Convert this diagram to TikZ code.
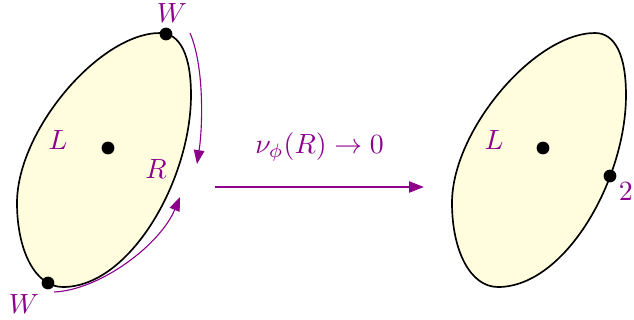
\documentclass[tikz,border=0pt]{standalone}
\usepackage{amsmath,amssymb}
\usepackage{xcolor}
\definecolor{accent}{RGB}{140,0,140}
\definecolor{blobfill}{RGB}{255,253,222}
\usetikzlibrary{arrows.meta,positioning}
\tikzset{
  region/.style={draw=black,fill=blobfill,line width=0.6pt},
  pt/.style={circle,fill=black,inner sep=0pt,minimum size=4.6pt},
  lbl/.style={text=accent,inner sep=0pt},
  slide/.style={-{Triangle[length=5pt,width=3.8pt]},draw=accent,line width=0.4pt},
  flow/.style={-{Triangle[length=5.4pt,width=4pt]},draw=accent,line width=0.7pt},
}
\newcommand{\blobpath}{(160,33) .. controls (180,33) and (191,55) .. (191,95)
  .. controls (191,180) and (130,287) .. (63,287)
  .. controls (35,287) and (17,250) .. (17,203)
  .. controls (17,130) and (100,33) .. cycle}

\begin{document}
\begin{tikzpicture}[x=0.36pt,y=-0.36pt]
\useasboundingbox (0,0) rectangle (634,320);
% before
\draw[region] \blobpath;
\node[pt] (wtop) at (166,34) {};
\node[pt] (wbot) at (48,283) {};
\node[pt] (cl) at (108,148) {};
\node[lbl] at (172,13) {$W$};
\node[lbl] at (24,304) {$W$};
\node[lbl] at (58,140) {$L$};
\node[lbl] at (156,169) {$R$};
\coordinate (s1) at (190,33);
\coordinate (e1) at (197,164);
\coordinate (s2) at (54,292);
\coordinate (e2) at (180,197);
\draw[slide] (s1) .. controls (204,65) and (203,125) .. (e1);
\draw[slide] (s2) .. controls (100,290) and (160,245) .. (e2);
% limit
\coordinate (a0) at (215,187);
\coordinate (a1) at (424,187);
\draw[flow] (a0) -- node[lbl,above=9pt] {$\nu_\phi(R)\to 0$} (a1);
% after
\begin{scope}[shift={(435,0)}]
\draw[region] \blobpath;
\node[pt] (cr) at (108,148) {};
\node[pt] (two) at (175,176) {};
\node[lbl] at (59,140) {$L$};
\node[lbl,below right=2pt and 3pt of two.center] {$2$};
\end{scope}
\end{tikzpicture}
\end{document}
